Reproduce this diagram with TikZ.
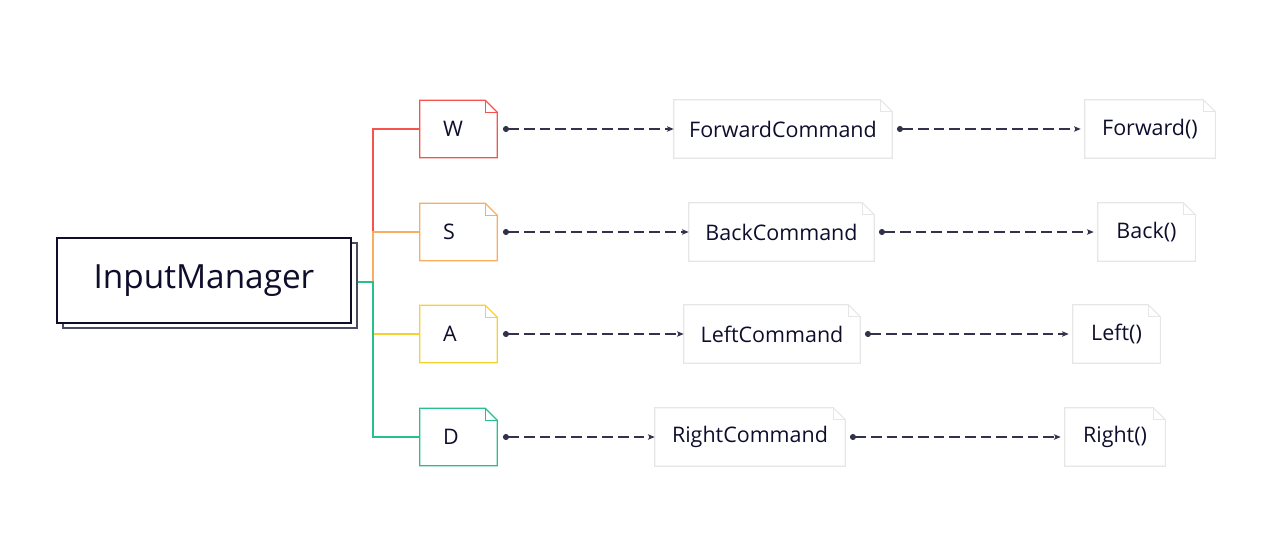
\documentclass[tikz,border=0pt]{standalone}
\usepackage{fontspec}
\setmainfont{Open Sans}
\usetikzlibrary{arrows.meta}

\definecolor{navy}{HTML}{0E0E2C}
\definecolor{shade}{HTML}{4A4A62}
\definecolor{boxgray}{HTML}{E6E6E6}
\definecolor{keyred}{HTML}{F4544C}
\definecolor{keyorange}{HTML}{F9AD62}
\definecolor{keyyellow}{HTML}{F5D22E}
\definecolor{keygreen}{HTML}{27C08A}

\begin{document}
\begin{tikzpicture}[x=0.75pt, y=-0.75pt,
    every node/.style={font=\fontsize{16.1}{18}\selectfont, text=navy},
    keybox/.style={minimum height=42.75pt, inner xsep=17.25pt, text width=23.25pt, align=left},
    cmdbox/.style={minimum height=43.5pt, inner sep=0pt},
    imbox/.style={minimum width=220.5pt, minimum height=63.75pt, fill=white, line width=1pt},
    branch/.style={line width=1pt},
    flow/.style={navy!85, line width=0.8pt, dash pattern=on 8pt off 3.75pt,
        {Circle[length=4.5pt, sep=-1pt]}-{Stealth[length=5pt, width=4pt, inset=1pt]}}]
    \useasboundingbox (0,0) rectangle (1273,556);

    % Manager box with its shadow
    \node[imbox, draw=shade] (imback) at (210,285.5) {};
    \node[imbox, draw=navy, font=\fontsize{25}{28}\selectfont] (im) at (204,280.5) {InputManager};
    \coordinate (hub) at (373,282);

    % One row per key: key -> command -> method
    \foreach \k/\col/\y/\cmd/\cx/\cw/\mth/\mx/\mw [count=\i] in {
        W/keyred/129/ForwardCommand/783/163.5/Forward()/1150/97.5,
        S/keyorange/232/BackCommand/781.5/138.75/Back()/1146.5/72.75,
        A/keyyellow/334/LeftCommand/772/132/Left()/1116.5/65.25,
        D/keygreen/437/RightCommand/750/142.5/Right()/1115/75} {
        \node[keybox] (key\i) at (458.5,\y) {\k};
        \node[cmdbox, minimum width=\cw pt] (cmd\i) at (\cx,\y) {\cmd};
        \node[cmdbox, minimum width=\mw pt] (mth\i) at (\mx,\y) {\mth};

        % folded corners
        \foreach \n/\c/\w in {key\i/\col/1pt, cmd\i/boxgray/0.8pt, mth\i/boxgray/0.8pt} {
            \draw[\c, line width=\w, line join=miter] (\n.north west) -- ([xshift=-9pt]\n.north east)
                -- ([yshift=-9pt]\n.north east) -- (\n.south east) -- (\n.south west) -- cycle;
            \draw[\c, line width=\w] ([xshift=-9pt]\n.north east) |- ([yshift=-9pt]\n.north east);
        }

        \draw[branch, \col] (imback.east |- hub) -- (hub) |- (key\i.west);
        \draw[flow] ([xshift=5.25pt]key\i.east) -- (cmd\i.west);
        \draw[flow] ([xshift=4.5pt]cmd\i.east) -- ([xshift=-3pt]mth\i.west);
    }
\end{tikzpicture}
\end{document}
